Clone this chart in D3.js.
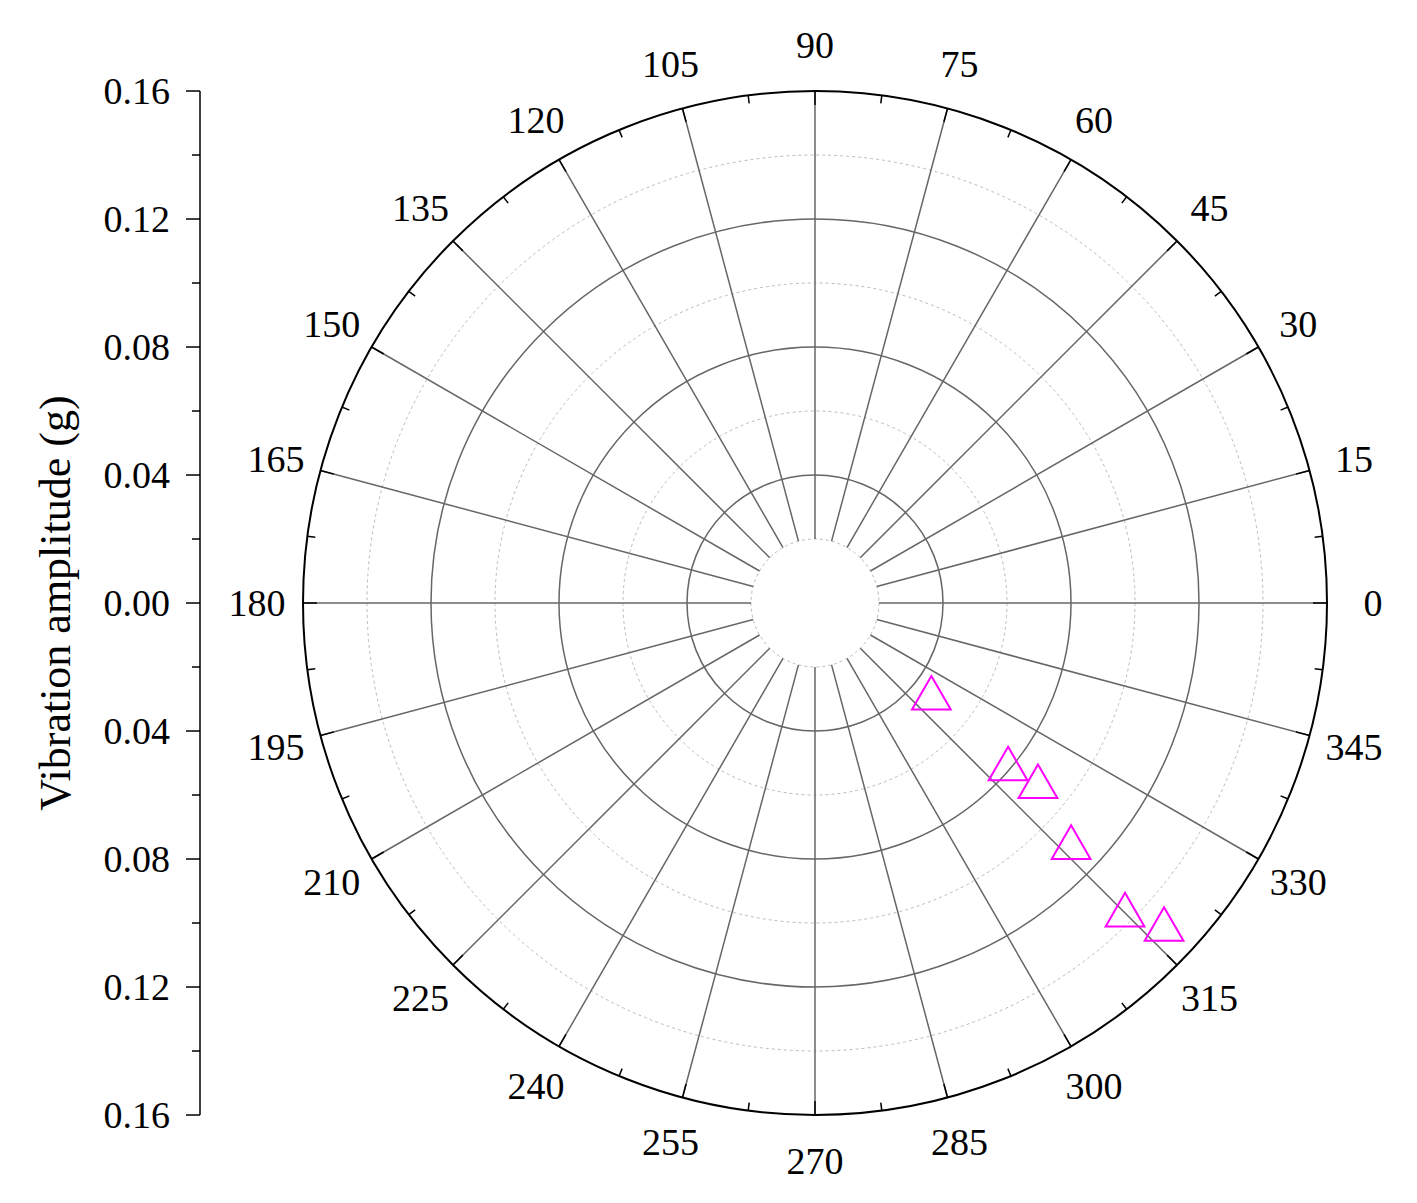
<!DOCTYPE html>
<html><head><meta charset="utf-8">
<script src="https://cdn.jsdelivr.net/npm/d3@7"></script>
<style>body{margin:0;background:#fff}text{font-family:"Liberation Serif","Times New Roman",serif;fill:#000}</style>
</head><body><svg id="c" width="1417" height="1203"></svg>
<script>
// data
const angles = [320.7, 319.3, 320.5, 316.3, 314.8, 316.9];
const amplitudes = [0.047, 0.0796, 0.0903, 0.1107, 0.1375, 0.1494];
const angleTicks = d3.range(0, 360, 15);
const radialTicks = [0.04, 0.08, 0.12, 0.16];
const axisTicks = [0.16, 0.12, 0.08, 0.04, 0.00, 0.04, 0.08, 0.12, 0.16];

const cx = 815, cy = 603, R = 512;
const svg = d3.select('#c');
const r = d3.scaleLinear().domain([0, 0.16]).range([0, R]);
const toXY = (a, v) => [cx + r(v) * Math.cos(a * Math.PI / 180), cy - r(v) * Math.sin(a * Math.PI / 180)];

// dashed circles
svg.selectAll('.dc').data([0.02, 0.06, 0.10, 0.14]).enter().append('circle')
    .attr('cx', cx).attr('cy', cy).attr('r', d => r(d))
    .attr('fill', 'none').attr('stroke', '#bbb').attr('stroke-dasharray', '3,3').attr('stroke-width', 1);
// solid circles
svg.selectAll('.sc').data(radialTicks.slice(0, 3)).enter().append('circle')
    .attr('cx', cx).attr('cy', cy).attr('r', d => r(d))
    .attr('fill', 'none').attr('stroke', '#666').attr('stroke-width', 1.5);
// spokes
svg.selectAll('.sp').data(angleTicks).enter().append('line')
    .attr('x1', d => toXY(d, 0.02)[0]).attr('y1', d => toXY(d, 0.02)[1])
    .attr('x2', d => toXY(d, 0.16)[0]).attr('y2', d => toXY(d, 0.16)[1])
    .attr('stroke', '#666').attr('stroke-width', 1.5);
// outer circle
svg.append('circle').attr('cx', cx).attr('cy', cy).attr('r', R)
    .attr('fill', 'none').attr('stroke', '#000').attr('stroke-width', 2);
// outer ticks (inward)
svg.selectAll('.ot').data(d3.range(0, 360, 7.5)).enter().append('line')
    .attr('x1', d => toXY(d, 0.16)[0]).attr('y1', d => toXY(d, 0.16)[1])
    .attr('x2', d => cx + (R - (d % 15 ? 8 : 14)) * Math.cos(d * Math.PI / 180))
    .attr('y2', d => cy - (R - (d % 15 ? 8 : 14)) * Math.sin(d * Math.PI / 180))
    .attr('stroke', '#000').attr('stroke-width', 1.5);
// angle labels
svg.selectAll('.al').data(angleTicks).enter().append('text')
    .attr('x', d => cx + (R + 46) * Math.cos(d * Math.PI / 180))
    .attr('y', d => cy - (R + 46) * Math.sin(d * Math.PI / 180))
    .attr('text-anchor', 'middle').attr('dominant-baseline', 'central')
    .attr('font-size', 38).text(d => d);

// left axis
const ax = 200;
const yAxis = d3.scaleLinear().domain([0, axisTicks.length - 1]).range([cy - R, cy + R]);
svg.append('line').attr('x1', ax).attr('x2', ax).attr('y1', cy - R).attr('y2', cy + R).attr('stroke', '#000').attr('stroke-width', 1.5);
svg.selectAll('.lt').data(d3.range(0, axisTicks.length - 0.5, 0.5)).enter().append('line')
    .attr('x1', ax).attr('x2', d => ax - (d % 1 ? 8 : 14))
    .attr('y1', d => yAxis(d)).attr('y2', d => yAxis(d)).attr('stroke', '#000').attr('stroke-width', 1.5);
svg.selectAll('.ll').data(axisTicks).enter().append('text')
    .attr('x', ax - 30).attr('y', (d, i) => yAxis(i))
    .attr('text-anchor', 'end').attr('dominant-baseline', 'central')
    .attr('font-size', 38).text(d => d.toFixed(2));
svg.append('text').attr('transform', `translate(70,${cy}) rotate(-90)`)
    .attr('text-anchor', 'middle').attr('font-size', 44).text('Vibration amplitude (g)');

// points
const tri = d3.symbol().type(d3.symbolTriangle).size(650);
svg.selectAll('.pt').data(angles.map((a, i) => [a, amplitudes[i]])).enter().append('path')
    .attr('d', tri)
    .attr('transform', d => `translate(${toXY(d[0], d[1])})`)
    .attr('fill', 'none').attr('stroke', '#ff00ff').attr('stroke-width', 2);
</script></body></html>
